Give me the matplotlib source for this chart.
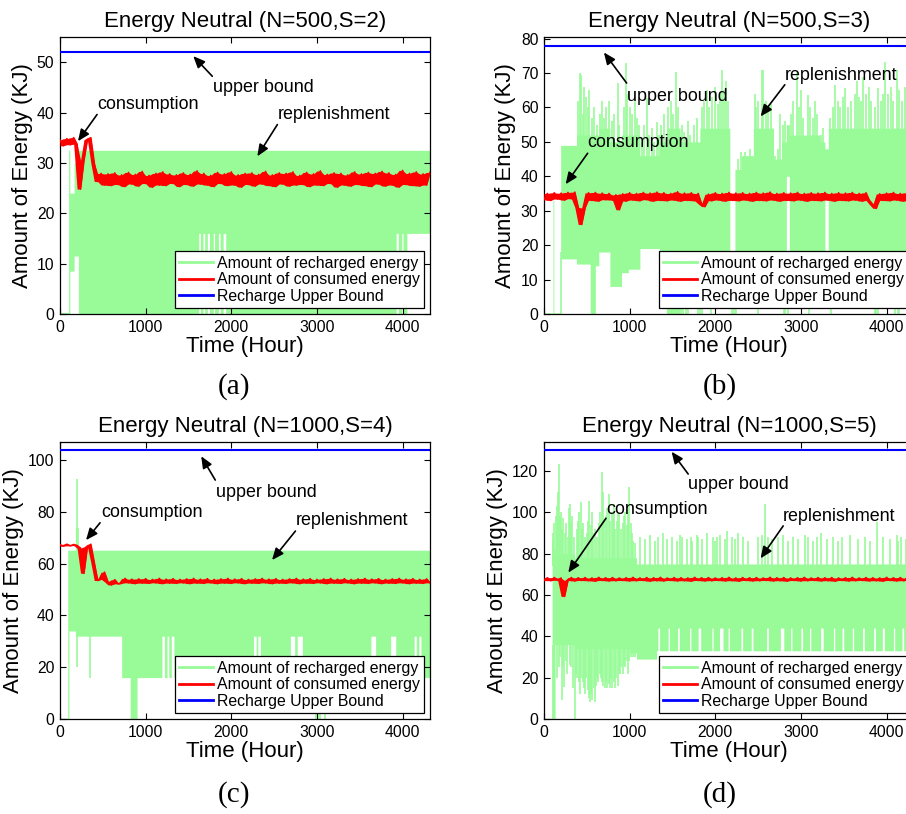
import numpy as np
import matplotlib
matplotlib.use('Agg')
import matplotlib.pyplot as plt
from matplotlib.lines import Line2D

plt.rcParams['font.family'] = ['Liberation Sans', 'DejaVu Sans']

GREEN = '#98fb98'
T_END = 4320
hours = np.arange(0, T_END + 1, 40)   # sampling of the consumed-energy curve

# ---------------- (a) N=500, S=2 ----------------
a_title = 'Energy Neutral (N=500,S=2)'
a_bound = 52
a_ylim = (0, 55)
a_yticks = [0, 10, 20, 30, 40, 50]
# recharged energy: band segments (start hour, low, high)
a_edges = [0, 97, 115, 165, 215, 4050]
a_lo = [0, 0, 8.5, 11.5, 0, 16]
a_hi = [0.3, 32.5, 24, 30, 32.5, 32.5]
a_gap_start = [1620, 1670, 1720, 1790, 1850, 1905, 3925, 3990]
a_gap_end = [1640, 1690, 1745, 1805, 1870, 1935, 3950, 4005]
a_gap_lo = 16
# thin spikes above the band (from up_base) and drops below it (up to dn_top)
a_up_t, a_up_hi, a_up_base = [], [], 0
a_dn_t, a_dn_lo, a_dn_top = [], [], 0
a_red = [34.5, 33.4, 34.8, 33.6, 35.0, 33.7, 24.8, 30.5, 34.6, 35.0, 30.0, 26.3,
         27.9, 25.6, 27.8, 25.5, 28.0, 25.7, 27.6, 25.3, 28.1, 25.8, 27.7, 25.4,
         28.3, 25.9, 27.5, 25.2, 27.9, 25.6, 28.2, 25.5, 27.8, 25.9, 27.6, 25.3,
         28.0, 25.7, 27.7, 25.4, 28.4, 25.8, 27.9, 25.6, 27.5, 25.3, 28.1, 25.9,
         27.8, 25.5, 28.2, 25.6, 27.6, 25.2, 27.9, 25.7, 28.0, 25.4, 27.7, 25.8,
         28.3, 25.5, 27.6, 25.3, 28.0, 25.8, 27.9, 25.4, 28.2, 25.6, 27.5, 25.7,
         28.1, 25.3, 27.8, 25.6, 28.4, 25.5, 27.7, 25.9, 28.0, 25.2, 27.9, 25.6,
         27.6, 25.4, 28.2, 25.7, 27.8, 25.5, 28.1, 25.3, 27.9, 25.8, 28.3, 25.4,
         28.0, 25.6, 27.7, 25.2, 28.5, 25.7, 27.9, 25.5, 28.2, 25.4, 27.8, 25.6,
         28.1]
a_notes = [('upper bound', (1789, 45.0), (1778, 47.2), (1556, 51.2)),
           ('consumption', (433, 41.6), (433, 39.6), (210, 34.3)),
           ('replenishment', (2538, 39.6), (2538, 37.6), (2304, 31.3))]

# ---------------- (b) N=500, S=3 ----------------
b_title = 'Energy Neutral (N=500,S=3)'
b_bound = 78
b_ylim = (0, 80.5)
b_yticks = [0, 10, 20, 30, 40, 50, 60, 70, 80]
b_edges = [0, 105, 113, 195, 380, 540, 600, 640, 770, 905, 985, 1120, 1350, 1430,
           1590, 1820, 2170, 2230, 2305, 2443, 2680, 2775, 2830, 2865, 3220, 3280, 3320]
b_lo = [0, 0, 0, 16, 14.5, 0, 14, 18, 8, 12, 13, 19, 14, 0,
        16, 16, 0, 18, 18, 18, 18, 18, 40, 18, 18, 33, 18]
b_hi = [0.3, 33, 0.3, 49, 52, 52, 52, 54, 50, 52, 52, 46, 50, 54,
        50, 54, 0.3, 42, 46, 54, 45, 50, 55, 52, 50, 48, 54]
b_gap_start, b_gap_end, b_gap_lo = [], [], 0
b_up_base = 20
b_up_t = [395, 420, 435, 450, 470, 490, 510, 525, 560, 590, 620,
          650, 680, 700, 730, 762, 790, 820, 860, 880, 930, 960, 975,
          1000, 1030, 1060, 1090, 1110, 1140, 1170, 1200, 1230, 1260, 1290, 1320, 1340,
          1370, 1400, 1450, 1480, 1510, 1540, 1570, 1610, 1640, 1680, 1710, 1750, 1790,
          1840, 1870, 1900, 1930, 1960, 2000, 2030, 2060, 2080, 2100, 2120, 2150,
          2260, 2300, 2350, 2400, 2460, 2480, 2500, 2540, 2560, 2590, 2620, 2650,
          2700, 2730, 2760, 2790, 2810, 2880, 2910, 2950, 2980, 3000, 3030,
          3080, 3110, 3140, 3160, 3190, 3240, 3260,
          3340, 3370, 3400, 3430, 3460, 3490, 3520, 3550, 3580,
          3630, 3650, 3680, 3700, 3730, 3760, 3790, 3820, 3860, 3900, 3930, 3960, 3980,
          4020, 4050, 4080, 4120, 4150, 4180, 4210, 4250, 4280, 4300]
b_up_hi = [62, 70, 69.5, 58, 66, 63, 60, 65, 57, 60, 55,
           58, 62, 57, 60, 62, 56, 58, 67, 55, 60, 73, 64,
           60, 58, 62, 57, 55, 50, 55, 62.7, 52, 54, 50, 55.9, 52,
           55, 58, 60, 62, 58, 70.4, 60, 55, 53, 56, 52, 55, 57,
           60, 62, 65, 60, 63, 66, 61, 64, 71, 65, 67.6, 62,
           45, 47, 47, 48, 64, 60, 62, 71, 71, 62, 60, 61,
           46, 48, 58, 55, 56, 58, 62, 70.5, 60, 65, 57,
           63.7, 60, 57, 62, 58, 52, 54,
           57, 60, 66.6, 62, 60, 63, 65.6, 60, 62,
           64, 67.6, 63, 62, 69, 64, 66, 62, 60, 65.6, 62, 64, 73.3,
           64, 66, 62, 70.9, 65, 62, 66, 68, 63, 65]
b_dn_top = 18
b_dn_t = [195, 1450, 1470, 1600, 1620, 1660, 1680, 1800, 1820, 1840, 1950, 2200, 2220,
          2240, 2500, 2800, 2820, 2850, 3100, 3350, 3860, 3880, 3900, 4100, 4130, 4150]
b_dn_lo = [0, 0, 0, 0, 0, 0, 0, 0, 0, 0, 0, 0, 0,
           0, 0, 0, 0, 0, 0, 0, 0, 0, 0, 0, 0, 0]
b_red = [33.2, 35.0, 33.0, 35.2, 33.4, 35.1, 33.1, 35.3, 33.5, 35.4, 31.0, 26.0,
         30.8, 35.2, 33.0, 35.3, 32.8, 35.1, 33.2, 35.0, 33.1, 34.6, 30.3, 34.9,
         32.8, 35.2, 33.1, 35.0, 32.9, 35.3, 33.2, 35.1, 32.8, 35.4, 33.0, 35.2,
         32.9, 35.0, 33.1, 35.5, 32.8, 35.1, 33.0, 35.2, 32.9, 35.0, 32.0, 31.2,
         34.8, 32.9, 35.2, 33.1, 35.0, 32.8, 35.3, 33.0, 35.1, 32.9, 35.2, 33.1,
         35.0, 32.8, 35.3, 33.0, 35.1, 32.9, 35.4, 33.1, 35.0, 32.8, 35.2, 33.0,
         35.1, 32.9, 35.3, 33.1, 35.0, 32.8, 35.2, 33.0, 35.1, 32.9, 35.3, 33.1,
         35.0, 32.8, 35.2, 33.0, 35.1, 32.9, 35.3, 33.1, 35.0, 32.8, 35.2, 33.0,
         31.8, 30.7, 34.9, 33.0, 35.1, 32.9, 35.3, 33.1, 35.0, 32.8, 35.2, 33.0,
         35.1]
b_notes = [('upper bound', (969, 63.2), (965, 67.1), (700, 76.0)),
           ('consumption', (510, 49.8), (510, 46.7), (253, 37.7)),
           ('replenishment', (2812, 69.2), (2812, 66.6), (2529, 57.4))]

# ---------------- (c) N=1000, S=4 ----------------
c_title = 'Energy Neutral (N=1000,S=4)'
c_bound = 104
c_ylim = (0, 107)
c_yticks = [0, 20, 40, 60, 80, 100]
c_edges = [0, 90, 105, 180, 215, 720, 820, 900]
c_lo = [0, 0, 34, 32, 32, 16, 0, 16]
c_hi = [0.3, 65.2, 65.2, 74, 65.2, 65.2, 65.2, 65.2]
c_gap_start = [1190, 1250, 1300, 2260, 2310, 2690, 2770, 3626, 3860, 4133, 4190]
c_gap_end = [1220, 1270, 1326, 2290, 2339, 2740, 2827, 3684, 3918, 4160, 4211]
c_gap_lo = 32
c_up_t, c_up_hi, c_up_base = [203], [92.9], 65
c_dn_t = [195, 350, 2990, 3010, 3040, 3090]
c_dn_lo = [20, 16, 0, 0, 0, 0]
c_dn_top = 32
c_red = [67.3, 66.8, 67.5, 66.9, 67.4, 67.0, 66.0, 56.3, 66.5, 67.5, 60.5, 53.5,
         54.0, 56.7, 53.0, 51.8, 53.8, 52.2, 52.4, 54.3, 52.6, 54.0, 52.3, 54.1,
         52.5, 54.2, 52.4, 53.9, 52.6, 54.3, 52.3, 54.0, 52.5, 54.2, 52.4, 53.9,
         52.6, 54.1, 52.3, 54.3, 52.5, 54.0, 52.4, 54.2, 52.6, 53.9, 52.3, 54.1,
         52.5, 54.3, 52.4, 54.0, 52.6, 54.2, 52.3, 53.9, 52.5, 54.1, 52.4, 54.3,
         52.6, 54.0, 52.3, 54.2, 52.5, 53.9, 52.4, 54.1, 52.6, 54.3, 52.3, 54.0,
         52.5, 54.2, 52.4, 53.9, 52.6, 54.1, 52.3, 54.3, 52.5, 54.0, 52.4, 54.2,
         52.6, 53.9, 52.3, 54.1, 52.5, 54.3, 52.4, 54.0, 52.6, 54.2, 52.3, 53.9,
         52.5, 54.1, 52.4, 54.3, 52.6, 54.0, 52.3, 54.2, 52.5, 53.9, 52.4, 54.1,
         52.6]
c_notes = [('upper bound', (1825, 87.4), (1813, 92.3), (1649, 101.5)),
           ('consumption', (480, 79.7), (468, 75.8), (304, 69.1)),
           ('replenishment', (2757, 76.6), (2749, 72.6), (2476, 61.4))]

# ---------------- (d) N=1000, S=5 ----------------
d_title = 'Energy Neutral (N=1000,S=5)'
d_bound = 130
d_ylim = (0, 134)
d_yticks = [0, 20, 40, 60, 80, 100, 120]
d_edges = [0, 95, 130, 360, 1000, 1080, 1315]
d_lo = [0, 0, 36, 34, 32, 29, 33]
d_hi = [0.3, 82, 80, 78, 78, 75, 75]
d_gap_start = [1330, 1450, 1560, 1700, 1800, 1960, 2050, 2150, 2300, 2420, 2600, 2760,
               2880, 3000, 3100, 3230, 3380, 3480, 3600, 3720, 3850, 3950, 4080, 4180, 4280]
d_gap_end = [1350, 1465, 1580, 1715, 1830, 1975, 2090, 2165, 2320, 2440, 2620, 2800,
             2895, 3020, 3115, 3260, 3395, 3500, 3615, 3740, 3870, 3975, 4095, 4200, 4300]
d_gap_lo = 44
d_up_base = 74
d_up_t = [100, 110, 120, 135, 148, 160, 175, 188, 200, 212, 225, 240, 260, 275, 290,
          303, 318, 330, 350, 380, 395, 410, 430, 445, 460, 480, 500, 515, 530, 545,
          556, 575, 600, 620, 640, 660, 675, 690, 705, 720, 740, 760, 775, 790, 805,
          820, 835, 850, 865, 880, 900, 920, 935, 950, 970, 985, 998, 1015, 1030, 1045, 1060,
          1120, 1178, 1237, 1295, 1334, 1393, 1432, 1490, 1548, 1587, 1607, 1665,
          1712, 1723, 1782, 1801, 1840, 1898, 1976, 1996, 2015, 2054, 2113, 2132,
          2190, 2229, 2268, 2326, 2385, 2501, 2540, 2579, 2618, 2657, 2735, 2793,
          2851, 2910, 2968, 3046, 3085, 3143, 3182, 3240, 3299, 3377, 3435, 3474,
          3571, 3668, 3746, 3805, 3883, 3960, 4038, 4116, 4136, 4174, 4225, 4290]
d_up_hi = [86, 90, 95, 98, 103, 110, 123.4, 98, 100, 92, 97, 90, 95, 88, 102,
           104, 95, 98, 88, 92, 96, 100, 105, 92, 95, 88, 90, 96, 105.6, 94,
           100, 90, 92, 88, 95, 100, 119.6, 110, 96, 98, 102, 109, 96, 100, 97,
           104, 92, 96, 99, 100, 92, 95, 98, 100, 94, 100, 112.4, 95, 90, 86, 85,
           88, 87, 89, 86, 88, 90, 87, 88, 86, 89, 88, 87,
           88, 86, 89, 88, 87, 90, 88, 86, 88, 89, 87, 91,
           88, 87, 90, 88, 86, 88, 89, 104, 88, 87, 88, 89,
           86, 88, 87, 89, 88, 86, 88, 90, 87, 88, 86, 88,
           89, 87, 88, 86, 95.5, 88, 87, 89, 86, 88, 87, 88]
d_dn_top = 36
d_dn_t = [100, 120, 150, 175, 190, 206, 220, 238, 255, 270, 300, 320, 340, 362, 375,
          390, 405, 420, 435, 450, 465, 480, 495, 510, 525, 537, 550, 560, 580, 595,
          610, 620, 635, 650, 665, 680, 695, 710, 725, 740, 755, 770, 785, 800, 815,
          830, 845, 860, 875, 890, 905, 920, 935, 950, 965, 980, 995, 1020, 1040, 1060]
d_dn_lo = [0, 15, 20, 25, 30, 9, 25, 15.6, 28, 22, 26, 25, 15, 0, 22,
           20, 18, 12, 20, 18, 15, 12, 20, 14, 10, 8.4, 12, 9, 15, 8.4,
           16, 20, 18, 22, 20, 18, 16, 14.8, 18, 15, 17, 15, 20, 14.8, 18,
           15, 20, 16, 22, 22, 25, 22, 26, 25, 28, 22, 28, 30, 30, 30]
d_red = [67.0, 68.3, 66.9, 68.4, 67.1, 68.2, 59.3, 67.0, 68.4, 66.8, 68.3, 67.0,
         68.4, 66.9, 68.2, 66.7, 68.5, 67.0, 68.3, 66.8, 68.4, 66.9, 68.2, 67.0,
         68.3, 66.8, 68.5, 66.9, 68.2, 67.0, 68.4, 66.7, 68.3, 66.9, 68.5, 66.8,
         68.2, 67.0, 68.4, 66.8, 68.3, 66.9, 68.2, 66.7, 68.5, 67.0, 68.3, 66.8,
         68.4, 66.9, 68.2, 67.0, 68.3, 66.8, 68.5, 66.9, 68.2, 66.7, 68.4, 67.0,
         68.3, 66.8, 68.4, 66.9, 68.2, 67.0, 68.5, 66.8, 68.3, 66.9, 68.4, 66.7,
         68.2, 67.0, 68.3, 66.8, 68.5, 66.9, 68.2, 67.0, 68.4, 66.8, 68.3, 66.9,
         68.4, 66.7, 68.2, 67.0, 68.3, 66.8, 68.5, 66.9, 68.2, 67.0, 68.4, 66.8,
         68.3, 66.9, 68.2, 66.7, 68.5, 67.0, 68.3, 66.8, 68.4, 66.9, 68.2, 67.0,
         68.3]
d_notes = [('upper bound', (1684, 113.2), (1684, 118.5), (1490, 129.3)),
           ('consumption', (731, 101.4), (724, 97.1), (284, 70.8)),
           ('replenishment', (2793, 98.2), (2793, 93.4), (2529, 77.7))]


def band_arrays(edges, lo, hi, gap_start, gap_end, gap_lo):
    # step-evaluate the band segments on a fine hour grid, then open the gaps
    t = np.arange(0, T_END + 1, 5)
    idx = np.searchsorted(edges, t, side='right') - 1
    lo_t = np.array(lo, dtype=float)[idx]
    hi_t = np.array(hi, dtype=float)[idx]
    for s, e in zip(gap_start, gap_end):
        lo_t[(t >= s) & (t < e)] = gap_lo
    return t, lo_t, hi_t


def draw(ax, title, edges, lo, hi, gs, ge, glo, up_t, up_hi, up_base,
         dn_t, dn_lo, dn_top, red, bound, ylim, yticks, notes):
    t, lo_t, hi_t = band_arrays(edges, lo, hi, gs, ge, glo)
    ax.fill_between(t, lo_t, hi_t, step='post', color=GREEN, lw=0, zorder=1)
    ax.vlines(up_t, up_base, up_hi, color=GREEN, lw=1.2, zorder=1)
    ax.vlines(dn_t, dn_lo, dn_top, color=GREEN, lw=1.2, zorder=1)

    # consumed energy: the noisy curve plus the band swept by consecutive samples
    red = np.asarray(red, dtype=float)
    nxt = np.append(red[1:], red[-1])
    ax.fill_between(hours, np.minimum(red, nxt), np.maximum(red, nxt),
                    color='r', lw=0, zorder=3)
    ax.plot(hours, red, color='r', lw=1.2, zorder=3)
    ax.plot(hours, np.full(len(hours), bound), color='b', lw=1.5, zorder=3)

    ax.set_xlim(0, T_END)
    ax.set_ylim(*ylim)
    ax.set_xticks([0, 1000, 2000, 3000, 4000])
    ax.set_yticks(yticks)
    ax.tick_params(direction='in', top=True, right=True, length=4, width=0.8,
                   labelsize=11.3, pad=4)
    for sp in ax.spines.values():
        sp.set_linewidth(0.9)
    ax.set_title(title, fontsize=16, pad=7)
    ax.set_xlabel('Time (Hour)', fontsize=16, labelpad=1)
    ax.set_ylabel('Amount of Energy (KJ)', fontsize=16, labelpad=3)
    for txt, pos, tail, head in notes:
        ax.text(pos[0], pos[1], txt, fontsize=12.9, ha='left', va='center', zorder=6)
        ax.annotate('', xy=head, xytext=tail, zorder=6,
                    arrowprops=dict(arrowstyle='-|>,head_length=0.7,head_width=0.3',
                                    color='k', lw=1.2, shrinkA=0, shrinkB=0))
    handles = [Line2D([], [], color=GREEN, lw=2),
               Line2D([], [], color='r', lw=2),
               Line2D([], [], color='b', lw=2)]
    leg = ax.legend(handles, ['Amount of recharged energy', 'Amount of consumed energy',
                              'Recharge Upper Bound'],
                    loc='lower right', fontsize=11.4, fancybox=False, framealpha=1,
                    edgecolor='k', borderaxespad=0.35, handlelength=2.1,
                    handletextpad=0.25, labelspacing=0.1, borderpad=0.3)
    leg.get_frame().set_linewidth(0.9)


fig = plt.figure(figsize=(9.06, 8.14), dpi=100)
ax_a = fig.add_axes([0.0662, 0.6143, 0.4084, 0.3403])
ax_b = fig.add_axes([0.6004, 0.6143, 0.4084, 0.3403])
ax_c = fig.add_axes([0.0662, 0.1167, 0.4084, 0.3403])
ax_d = fig.add_axes([0.6004, 0.1167, 0.4084, 0.3403])

draw(ax_a, a_title, a_edges, a_lo, a_hi, a_gap_start, a_gap_end, a_gap_lo,
     a_up_t, a_up_hi, a_up_base, a_dn_t, a_dn_lo, a_dn_top,
     a_red, a_bound, a_ylim, a_yticks, a_notes)
draw(ax_b, b_title, b_edges, b_lo, b_hi, b_gap_start, b_gap_end, b_gap_lo,
     b_up_t, b_up_hi, b_up_base, b_dn_t, b_dn_lo, b_dn_top,
     b_red, b_bound, b_ylim, b_yticks, b_notes)
draw(ax_c, c_title, c_edges, c_lo, c_hi, c_gap_start, c_gap_end, c_gap_lo,
     c_up_t, c_up_hi, c_up_base, c_dn_t, c_dn_lo, c_dn_top,
     c_red, c_bound, c_ylim, c_yticks, c_notes)
draw(ax_d, d_title, d_edges, d_lo, d_hi, d_gap_start, d_gap_end, d_gap_lo,
     d_up_t, d_up_hi, d_up_base, d_dn_t, d_dn_lo, d_dn_top,
     d_red, d_bound, d_ylim, d_yticks, d_notes)

for lab, x, y in [('(a)', 234, 387), ('(b)', 720, 387), ('(c)', 234, 795), ('(d)', 720, 795)]:
    fig.text(x / 906, 1 - y / 814, lab, family='Liberation Serif', fontsize=21,
             ha='center', va='center')

fig.savefig('out.png', dpi=100)
